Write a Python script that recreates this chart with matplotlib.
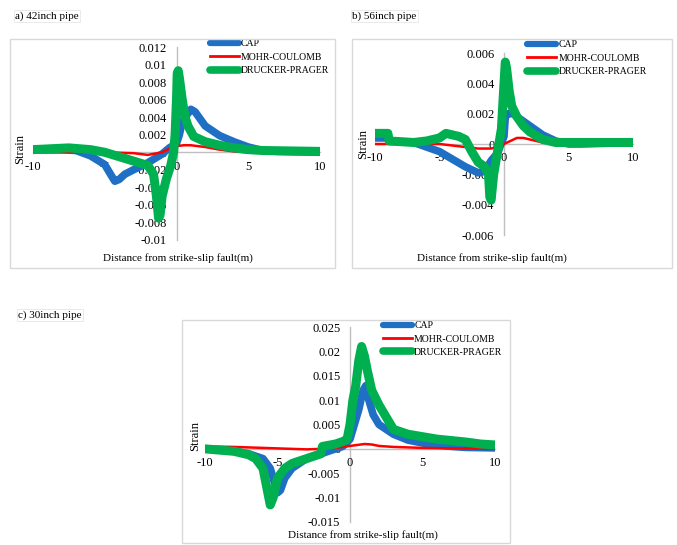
import matplotlib
matplotlib.use('Agg')
import matplotlib.pyplot as plt
from matplotlib.patches import Rectangle

plt.rcParams.update({
    "font.family": ["Liberation Serif", "DejaVu Serif"],
    "font.size": 9,
    "axes.unicode_minus": False,
})

C_CAP = '#1F6FC5'
C_MC = '#FF0000'
C_DP = '#00B050'
C_AX = '#BFBFBF'
C_BOX = '#D9D9D9'

LABELS = ['CAP', 'MOHR-COULOMB', 'DRUCKER-PRAGER']

# ===== a) 42inch pipe =====
A_CAP_X = [-10, -8, -7, -6, -5, -4.6, -4.3, -4.0, -3.6, -3, -2, -1, -0.5, 0, 0.2, 0.4, 0.7, 1.0, 1.3, 2, 3, 4, 5, 5.5, 6, 7, 10]
A_CAP_Y = [0.0003, 0.0003, 0.0002, -0.0004, -0.0014, -0.0025, -0.0033, -0.0031, -0.0025, -0.002, -0.0012, -0.0002, 0.0005, 0.001, 0.002, 0.0035, 0.0042, 0.0049, 0.0046, 0.003, 0.0019, 0.0012, 0.0006, 0.0004, 0.0002, 0.0001, 0.0]
A_MC_X = [-10, -5, -3, -2, -1, -0.5, 0, 0.5, 1, 2, 3, 4, 5, 10]
A_MC_Y = [0.0, 0.0, -0.0001, -0.0003, 0.0, 0.0004, 0.0007, 0.0008, 0.0008, 0.0006, 0.0003, 0.0001, 0.0, 0.0]
A_DP_X = [-10, -7.5, -6, -5, -4, -3, -2, -1.6, -1.4, -1.25, -1.15, -1.0, -0.7, -0.4, -0.2, -0.1, 0, 0.05, 0.12, 0.2, 0.4, 0.6, 0.8, 1.2, 2, 3, 4, 5, 6, 10]
A_DP_Y = [0.0003, 0.0005, 0.0003, 0.0, -0.0005, -0.001, -0.0015, -0.0025, -0.005, -0.0075, -0.0072, -0.005, -0.003, -0.0015, 0.0, 0.002, 0.006, 0.009, 0.0093, 0.0085, 0.006, 0.004, 0.003, 0.0018, 0.0012, 0.0008, 0.0005, 0.0003, 0.0002, 0.0001]

# ===== b) 56inch pipe =====
B_CAP_X = [-10, -9, -8.9, -7, -6, -5, -4, -3, -2, -1.5, -1, -0.5, 0, 0.1, 0.3, 0.7, 1, 2, 3, 4, 5, 6, 10]
B_CAP_Y = [0.0004, 0.0004, 0.0002, 0.0001, -0.0002, -0.0005, -0.001, -0.0015, -0.0019, -0.0018, -0.0011, -0.0006, 0.0005, 0.0018, 0.002, 0.002, 0.0018, 0.0012, 0.0006, 0.0002, 0.0, 0.0, 0.0001]
B_MC_X = [-10, -5, -3, -2, -1, -0.5, 0, 0.5, 1, 1.5, 2, 3, 4, 10]
B_MC_Y = [0.0, 0.0, -0.0002, -0.0003, -0.0003, -0.0002, 0.0, 0.0002, 0.0004, 0.0004, 0.0003, 0.0001, 0.0, 0.0]
B_DP_X = [-10, -9, -8.9, -7, -6, -5, -4.5, -4, -3.5, -3, -2.5, -2, -1.5, -1.2, -1.1, -1.0, -0.8, -0.5, -0.2, 0, 0.1, 0.2, 0.4, 0.6, 1, 1.5, 2, 3, 4, 5, 10]
B_DP_Y = [0.0007, 0.0007, 0.0002, 0.0001, 0.0002, 0.0004, 0.0007, 0.0006, 0.0005, 0.0003, -0.0005, -0.0012, -0.0015, -0.002, -0.0035, -0.0037, -0.002, -0.0005, 0.001, 0.004, 0.0054, 0.005, 0.0035, 0.0025, 0.0018, 0.0012, 0.0008, 0.0003, 0.0001, 0.0001, 0.0001]

# ===== c) 30inch pipe =====
C_CAP_X = [-10, -8, -7, -6, -5.5, -5.2, -5.0, -4.8, -4.5, -4, -3, -2, -1, -0.5, 0, 0.3, 0.6, 0.9, 1.1, 1.3, 1.6, 2, 3, 4, 5, 6, 7, 8, 10]
C_CAP_Y = [0.0, -0.0005, -0.001, -0.002, -0.004, -0.007, -0.009, -0.0085, -0.006, -0.004, -0.002, -0.001, 0.0, 0.0005, 0.002, 0.005, 0.008, 0.012, 0.013, 0.01, 0.007, 0.005, 0.003, 0.0018, 0.0012, 0.0008, 0.0005, 0.0003, 0.0002]
C_MC_X = [-10, -8, -6, -4, -3, -2, -1, 0, 0.5, 1, 1.5, 2, 3, 5, 7, 10]
C_MC_Y = [0.0005, 0.0004, 0.0002, 0.0, -0.0001, 0.0, 0.0002, 0.0006, 0.0008, 0.001, 0.0009, 0.0006, 0.0004, 0.0002, 0.0001, 0.0]
C_DP_X = [-10, -8, -7, -6.5, -6, -5.8, -5.6, -5.5, -5.3, -5, -4.5, -4, -3, -2, -1.9, -1, -0.5, -0.2, 0, 0.2, 0.4, 0.6, 0.8, 1, 1.2, 1.5, 2, 2.5, 3, 4, 5, 6, 7, 8, 9, 10]
C_DP_Y = [0.0, -0.0005, -0.0012, -0.002, -0.004, -0.007, -0.01, -0.0115, -0.01, -0.006, -0.004, -0.003, -0.002, -0.001, 0.0005, 0.001, 0.0015, 0.002, 0.005, 0.01, 0.013, 0.018, 0.021, 0.019, 0.016, 0.012, 0.009, 0.0065, 0.004, 0.003, 0.0025, 0.002, 0.0017, 0.0014, 0.001, 0.0008]

W, H = 677, 545
fig = plt.figure(figsize=(W / 100, H / 100), dpi=100)


def px_rect(x0, y0, x1, y1):
    # pixel box (top-left origin) -> figure fraction [l, b, w, h]
    return [x0 / W, 1 - y1 / H, (x1 - x0) / W, (y1 - y0) / H]


def fmt_tick(v):
    if abs(v) < 1e-12:
        return '0'
    return '%g' % v


def draw_panel(title, title_xy, box, plot, ylim, yticks, series,
               leg_xy, ylab_xy, xlab_xy):
    l, b, w, h = px_rect(*box)
    fig.add_artist(Rectangle((l, b), w, h, transform=fig.transFigure,
                             fill=False, edgecolor=C_BOX, linewidth=1.0))
    fig.text(title_xy[0] / W, 1 - title_xy[1] / H, title, fontsize=8,
             ha='left', va='center',
             bbox=dict(facecolor='white', edgecolor='#E6E6E6', pad=1, linewidth=0.6))

    ax = fig.add_axes(px_rect(*plot))
    ax.patch.set_alpha(0)
    (cx, cy), (mx, my), (dx, dy) = series
    ax.plot(cx, cy, color=C_CAP, linewidth=5.5, solid_capstyle='round', label=LABELS[0])
    ax.plot(mx, my, color=C_MC, linewidth=1.8, label=LABELS[1])
    ax.plot(dx, dy, color=C_DP, linewidth=6.5, solid_capstyle='round', label=LABELS[2])

    ax.set_xlim(-10, 10)
    ax.set_ylim(*ylim)
    ax.set_xticks([-10, -5, 0, 5, 10])
    ax.set_xticklabels(['-10', '-5', '0', '5', '10'])
    ax.set_yticks(yticks)
    ax.set_yticklabels([fmt_tick(v) for v in yticks])
    for s in ['top', 'right']:
        ax.spines[s].set_visible(False)
    for s in ['left', 'bottom']:
        ax.spines[s].set_position(('data', 0))
        ax.spines[s].set_color(C_AX)
        ax.spines[s].set_linewidth(1.0)
        ax.spines[s].set_zorder(0)
    ax.tick_params(length=0, labelsize=9)
    ax.tick_params(axis='y', pad=7)
    ax.tick_params(axis='x', pad=6)

    leg = ax.legend(loc='upper left', bbox_to_anchor=leg_xy, frameon=False,
                    fontsize=7, handlelength=3.0, handletextpad=0.2,
                    labelspacing=0.45, borderpad=0, borderaxespad=0)
    for hl, lw in zip(leg.get_lines(), [4.5, 2, 5.5]):
        hl.set_linewidth(lw)

    ax.text(ylab_xy[0], ylab_xy[1], 'Strain', transform=ax.transAxes,
            rotation=90, ha='center', va='center', fontsize=9)
    fig.text(xlab_xy[0] / W, 1 - xlab_xy[1] / H, 'Distance from strike-slip fault(m)',
             ha='center', va='center', fontsize=8)
    return ax


draw_panel('a) 42inch pipe', (15, 16), (10, 39, 335, 268), (33, 47, 320, 240),
           (-0.010, 0.012),
           [-0.01, -0.008, -0.006, -0.004, -0.002, 0, 0.002, 0.004, 0.006, 0.008, 0.01, 0.012],
           ((A_CAP_X, A_CAP_Y), (A_MC_X, A_MC_Y), (A_DP_X, A_DP_Y)),
           (0.615, 1.04), (-0.045, 0.47), (178, 258))

draw_panel('b) 56inch pipe', (352, 16), (352, 39, 672, 268), (375, 53, 633, 235),
           (-0.006, 0.006),
           [-0.006, -0.004, -0.002, 0, 0.002, 0.004, 0.006],
           ((B_CAP_X, B_CAP_Y), (B_MC_X, B_MC_Y), (B_DP_X, B_DP_Y)),
           (0.59, 1.07), (-0.047, 0.50), (492, 258))

draw_panel('c) 30inch pipe', (18, 315), (182, 320, 510, 543), (205, 327, 495, 522),
           (-0.015, 0.025),
           [-0.015, -0.01, -0.005, 0, 0.005, 0.01, 0.015, 0.02, 0.025],
           ((C_CAP_X, C_CAP_Y), (C_MC_X, C_MC_Y), (C_DP_X, C_DP_Y)),
           (0.614, 1.03), (-0.034, 0.44), (363, 535))

fig.savefig('out.png', dpi=100)
